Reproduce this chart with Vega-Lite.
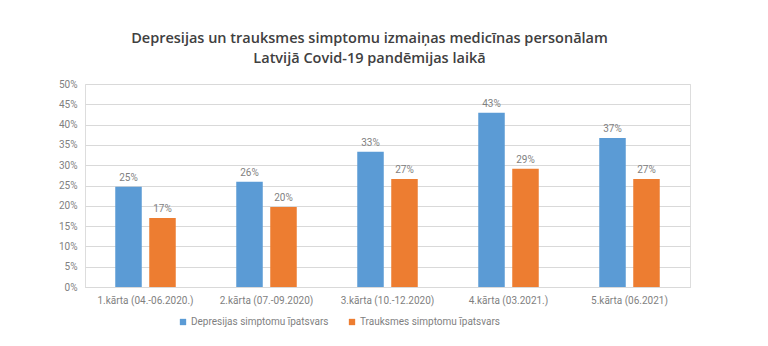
{
  "$schema": "https://vega.github.io/schema/vega-lite/v6.json",
  "autosize": {"type": "none"},
  "width": 605,
  "height": 203,
  "padding": {"left": 85, "top": 84, "right": 78, "bottom": 59},
  "background": "white",
  "title": {
    "text": ["Depresijas un trauksmes simptomu izmaiņas medicīnas personālam", "Latvijā Covid-19 pandēmijas laikā"],
    "font": "Open Sans",
    "fontSize": 14.5,
    "fontWeight": 600,
    "color": "#404040",
    "anchor": "middle",
    "offset": 13,
    "dx": -18,
    "lineHeight": 20
  },
  "data": {
    "values": [
      {"karta": "1.kārta (04.-06.2020.)", "series": "Depresijas simptomu īpatsvars", "value": 24.7, "label": "25%"},
      {"karta": "1.kārta (04.-06.2020.)", "series": "Trauksmes simptomu īpatsvars", "value": 17.0, "label": "17%"},
      {"karta": "2.kārta (07.-09.2020)", "series": "Depresijas simptomu īpatsvars", "value": 25.9, "label": "26%"},
      {"karta": "2.kārta (07.-09.2020)", "series": "Trauksmes simptomu īpatsvars", "value": 19.7, "label": "20%"},
      {"karta": "3.kārta (10.-12.2020)", "series": "Depresijas simptomu īpatsvars", "value": 33.3, "label": "33%"},
      {"karta": "3.kārta (10.-12.2020)", "series": "Trauksmes simptomu īpatsvars", "value": 26.6, "label": "27%"},
      {"karta": "4.kārta (03.2021.)", "series": "Depresijas simptomu īpatsvars", "value": 42.9, "label": "43%"},
      {"karta": "4.kārta (03.2021.)", "series": "Trauksmes simptomu īpatsvars", "value": 29.1, "label": "29%"},
      {"karta": "5.kārta (06.2021)", "series": "Depresijas simptomu īpatsvars", "value": 36.7, "label": "37%"},
      {"karta": "5.kārta (06.2021)", "series": "Trauksmes simptomu īpatsvars", "value": 26.6, "label": "27%"}
    ]
  },
  "encoding": {
    "x": {
      "field": "karta", "type": "nominal", "sort": null,
      "scale": {"paddingInner": 0.5, "paddingOuter": 0.25},
      "axis": {
        "title": null, "labelAngle": 0, "ticks": false,
        "domainColor": "#d9d9d9", "labelColor": "#7f7f7f",
        "labelFont": "Roboto", "labelFontSize": 10, "labelPadding": 8
      }
    },
    "xOffset": {"field": "series", "type": "nominal", "scale": {"paddingInner": 0.22}},
    "y": {
      "field": "value", "type": "quantitative",
      "scale": {"domain": [0, 50]},
      "axis": {
        "title": null, "values": [0,5,10,15,20,25,30,35,40,45,50],
        "labelExpr": "datum.value + '%'",
        "domain": false, "ticks": false, "gridColor": "#d9d9d9",
        "labelColor": "#7f7f7f", "labelFont": "Roboto", "labelFontSize": 10, "labelPadding": 8
      }
    }
  },
  "layer": [
    {
      "mark": {"type": "bar"},
      "encoding": {
        "color": {
          "field": "series", "type": "nominal",
          "scale": {"range": ["#5B9BD5", "#ED7D31"]},
          "legend": {
            "title": null, "orient": "none", "direction": "horizontal",
            "legendX": 93, "legendY": 233,
            "symbolType": "square", "symbolSize": 40, "symbolStrokeWidth": 0,
            "labelFont": "Roboto", "labelFontSize": 10, "labelColor": "#7f7f7f",
            "columnPadding": 18, "labelOffset": 3
          }
        }
      }
    },
    {
      "mark": {"type": "text", "dy": -9, "font": "Roboto", "fontSize": 10, "color": "#7f7f7f"},
      "encoding": {"text": {"field": "label"}}
    }
  ]
}
